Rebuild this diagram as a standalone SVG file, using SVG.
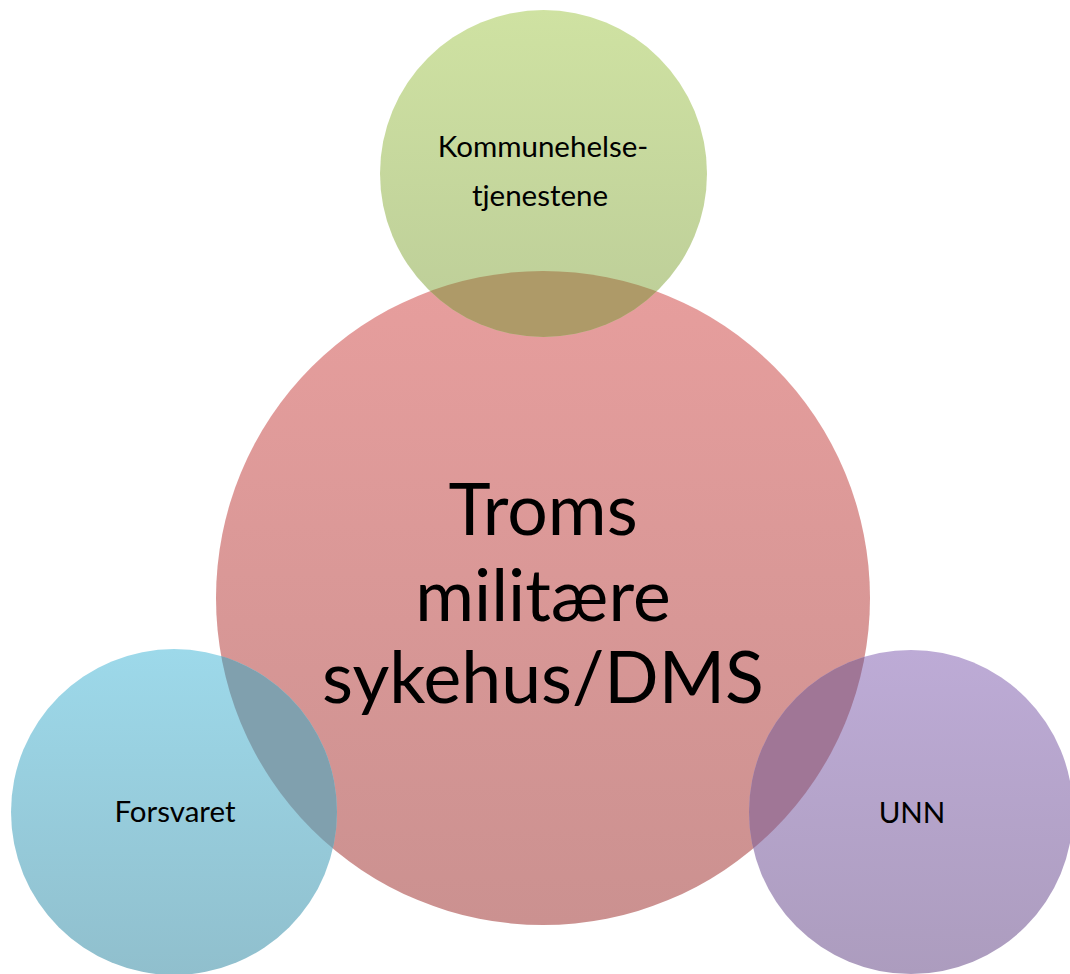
<svg xmlns="http://www.w3.org/2000/svg" width="1070" height="974" viewBox="0 0 1070 974">
  <style>
    text { font-family: Lato, "Open Sans", "Liberation Sans", sans-serif; fill: #000; text-anchor: middle; }
    .big { font-size: 71.5px; }
    .small { font-size: 29.5px; }
  </style>
  <defs>
    <linearGradient id="gRed" x1="0" y1="0" x2="0" y2="1">
      <stop offset="0" stop-color="#E79E9D"/>
      <stop offset="1" stop-color="#CB9190"/>
    </linearGradient>
    <linearGradient id="gGreen" x1="0" y1="0" x2="0" y2="1">
      <stop offset="0" stop-color="#CFE2A2"/>
      <stop offset="1" stop-color="#BCCD98"/>
    </linearGradient>
    <linearGradient id="gBlue" x1="0" y1="0" x2="0" y2="1">
      <stop offset="0" stop-color="#9DD9EA"/>
      <stop offset="1" stop-color="#90BFCD"/>
    </linearGradient>
    <linearGradient id="gPurple" x1="0" y1="0" x2="0" y2="1">
      <stop offset="0" stop-color="#BDABD6"/>
      <stop offset="1" stop-color="#AC9CBE"/>
    </linearGradient>
    <clipPath id="clipRed">
      <circle cx="543" cy="598" r="327"/>
    </clipPath>
  </defs>

  <g id="connectors"/>

  <g id="node-troms">
    <circle cx="543" cy="598" r="327" fill="url(#gRed)"/>
  </g>

  <g id="node-kommune">
    <circle cx="543.5" cy="173.5" r="163.5" fill="url(#gGreen)"/>
    <circle cx="543.5" cy="173.5" r="163.5" fill="#AE9A68" clip-path="url(#clipRed)"/>
    <text class="small" x="543" y="157">Kommunehelse-</text>
    <text class="small" x="540" y="206">tjenestene</text>
  </g>

  <g id="node-forsvaret">
    <circle cx="174" cy="812" r="163" fill="url(#gBlue)"/>
    <circle cx="174" cy="812" r="163" fill="#80A0AE" clip-path="url(#clipRed)"/>
    <text class="small" x="175" y="822">Forsvaret</text>
  </g>

  <g id="node-unn">
    <circle cx="911" cy="812" r="162" fill="url(#gPurple)"/>
    <circle cx="911" cy="812" r="162" fill="#A07696" clip-path="url(#clipRed)"/>
    <text class="small" x="912" y="823">UNN</text>
  </g>

  <g id="label-troms">
    <text class="big" x="543" y="535">Troms</text>
    <text class="big" x="543" y="621">militære</text>
    <text class="big" x="543" y="703">sykehus/DMS</text>
  </g>
</svg>
